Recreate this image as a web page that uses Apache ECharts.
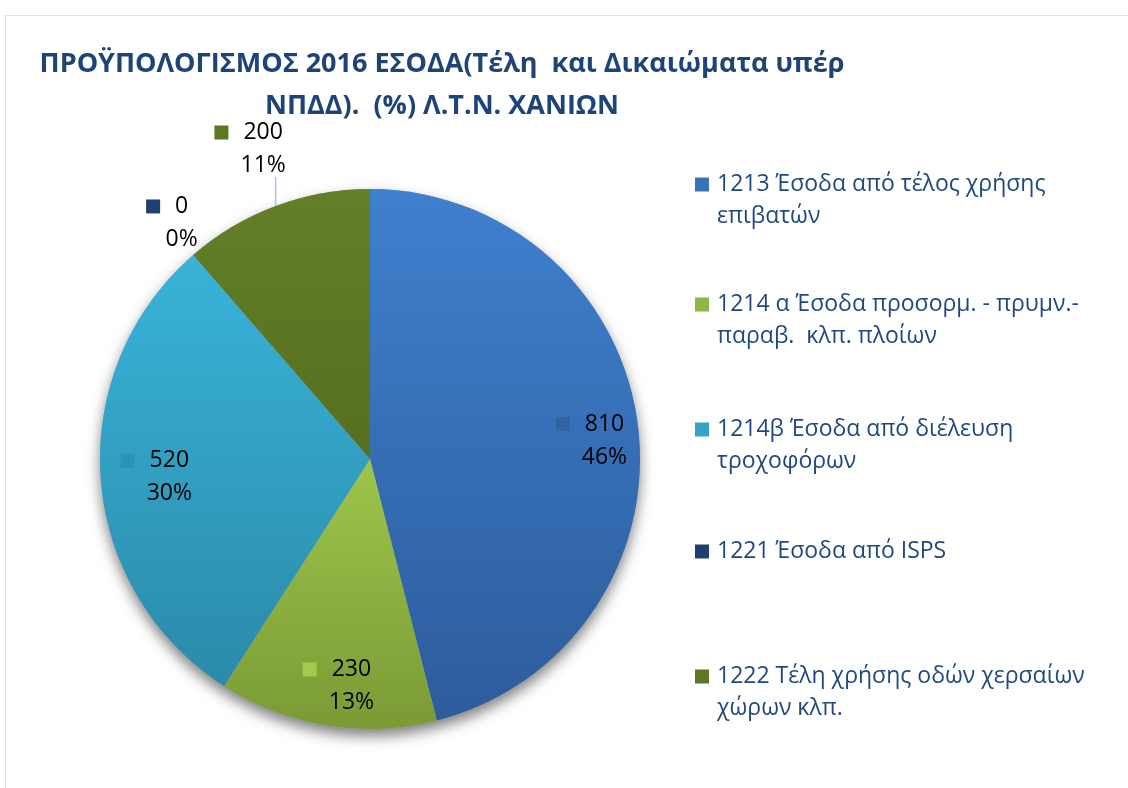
<!DOCTYPE html>
<html>
<head>
<meta charset="utf-8">
<script src="https://cdn.jsdelivr.net/npm/echarts@6/dist/echarts.min.js"></script>
<style>
	html, body { margin: 0; padding: 0; background: #fff; }
	.frame { position: absolute; left: 5px; top: 15px; width: 1200px; height: 900px; border-left: 1px solid #d9e3f0; border-top: 1px solid #d9e3f0; }
	#chart { position: absolute; left: 0; top: 0; width: 1128px; height: 788px; }
</style>
</head>
<body>
<div class="frame"></div>
<div id="chart"></div>
<script>
const categories = [
	"1213 Έσοδα από τέλος χρήσης\nεπιβατών",
	"1214 α Έσοδα προσορμ. - πρυμν.-\nπαραβ.  κλπ. πλοίων",
	"1214β Έσοδα από διέλευση\nτροχοφόρων",
	"1221 Έσοδα από ISPS",
	"1222 Τέλη χρήσης οδών χερσαίων\nχώρων κλπ."
];
const values = [ 810, 230, 520, 0, 200 ];
const labelPlacement = [ "inside", "inside", "inside", "outside", "outside" ];

const topColors = [ "#3f80cf", "#9dc64b", "#39b3d9", "#264f86", "#637f28" ];
const bottomColors = [ "#2d5c9b", "#7b9a35", "#2b8aa9", "#1c3a64", "#56701f" ];
const keyColors = [ "#3a72b8", "#8fb545", "#33a3c6", "#1f406f", "#5c7823" ];
const labelKeyColors = [ "#3263a3", "#a2ca4e", "#2c92b6", "#1f406f", "#5c7823" ];

const FONT = "'Open Sans', sans-serif";
const CENTER = [ 370, 459 ];
const RADIUS = 270;
// how far out (share of radius) the inside labels sit, plus a small nudge
const insideReach = [ 0.80, 0.84, 0.77 ];
const insideNudge = [ [ 0, 9 ], [ 3, -2 ], [ -4, 3 ] ];
// offsets for the outside labels, from the point on the rim
const outsideShift = { 3: [ -26, 1 ], 4: [ -27, -24 ] };
const legendTops = [ 173, 293, 418, 540, 665 ];

const chart = echarts.init( document.getElementById( "chart" ), null, { renderer: "canvas" } );

function grad( i ) {
	return new echarts.graphic.LinearGradient( 0, 0, 0, 1, [
		{ offset: 0, color: topColors[ i ] },
		{ offset: 1, color: bottomColors[ i ] }
	] );
}

const pieData = categories.map( ( name, i ) => ( {
	name,
	value: values[ i ],
	itemStyle: { color: grad( i ) },
	label: {
		position: labelPlacement[ i ],
		rich: {
			sq: { width: 14, height: 14, backgroundColor: labelKeyColors[ i ] },
			gap: { width: 15 },
			sp: { width: 29 },
			v: { fontFamily: FONT, fontSize: 23, color: "#000", lineHeight: 33 },
			p: { fontFamily: FONT, fontSize: 23, color: "#000", lineHeight: 33 }
		}
	},
	labelLine: { show: i === 4 }
} ) );

// one legend per entry, so each can sit at its own height with the key on the first line
const legends = categories.map( ( name, i ) => ( {
	data: [ name ],
	orient: "vertical",
	left: 689,
	top: legendTops[ i ],
	padding: 0,
	itemWidth: 1,
	itemHeight: 14,
	icon: "none",
	selectedMode: false,
	formatter: n => n.split( "\n" ).map( ( line, j ) => ( j === 0 ? "{sq|}{g|}" : "{ind|}" ) + "{t|" + line + "}" ).join( "\n" ),
	textStyle: {
		rich: {
			sq: { width: 14, height: 14, backgroundColor: keyColors[ i ], verticalAlign: "middle" },
			g: { width: 8 },
			ind: { width: 22 },
			t: { fontFamily: FONT, fontSize: 23, color: "#1f497d", lineHeight: 32 }
		}
	}
} ) );

chart.setOption( {
	animation: false,
	title: {
		text: "ΠΡΟΫΠΟΛΟΓΙΣΜΟΣ 2016 ΕΣΟΔΑ(Τέλη  και Δικαιώματα υπέρ\nΝΠΔΔ).  (%) Λ.Τ.Ν. ΧΑΝΙΩΝ",
		left: 437,
		top: 38,
		textAlign: "center",
		textStyle: {
			fontFamily: FONT,
			fontSize: 27,
			fontWeight: "bold",
			color: "#1c4479",
			lineHeight: 42
		}
	},
	legend: legends,
	series: [
		{
			// plain disc under the slices, only to cast the soft shadow
			type: "pie",
			center: CENTER,
			radius: [ 0, RADIUS ],
			silent: true,
			z: 1,
			label: { show: false },
			labelLine: { show: false },
			itemStyle: {
				color: "#9aa5b1",
				shadowBlur: 14,
				shadowOffsetY: 7,
				shadowColor: "rgba(0,0,0,0.5)"
			},
			data: [ { value: 1, name: "_shadow" } ]
		},
		{
			type: "pie",
			center: CENTER,
			radius: [ 0, RADIUS ],
			startAngle: 90,
			clockwise: true,
			avoidLabelOverlap: false,
			z: 2,
			silent: true,
			label: {
				show: true,
				formatter: p => `{sq|}{gap|}{v|${ p.value }}\n{sp|}{p|${ Math.round( p.percent ) }%}`,
				align: "center"
			},
			labelLine: {
				length: 30,
				length2: 0,
				lineStyle: { color: "#a9c4e8", width: 1.5 }
			},
			labelLayout: function ( params ) {
				const i = params.dataIndex;
				const r = params.labelRect;
				if ( labelPlacement[ i ] === "inside" ) {
					const lx = r.x + r.width / 2;
					const ly = r.y + r.height / 2;
					const k = insideReach[ i ] / 0.5 - 1;
					return {
						dx: ( lx - CENTER[ 0 ] ) * k + insideNudge[ i ][ 0 ],
						dy: ( ly - CENTER[ 1 ] ) * k + insideNudge[ i ][ 1 ]
					};
				}
				const rim = params.labelLinePoints ? params.labelLinePoints[ 0 ] : [ r.x, r.y ];
				const s = outsideShift[ i ];
				return {
					x: rim[ 0 ] + s[ 0 ],
					y: rim[ 1 ] + s[ 1 ],
					align: "center",
					verticalAlign: "bottom",
					labelLinePoints: [ rim, [ rim[ 0 ], rim[ 1 ] - 29 ], [ rim[ 0 ], rim[ 1 ] - 29 ] ]
				};
			},
			data: pieData
		}
	]
} );
</script>
</body>
</html>
